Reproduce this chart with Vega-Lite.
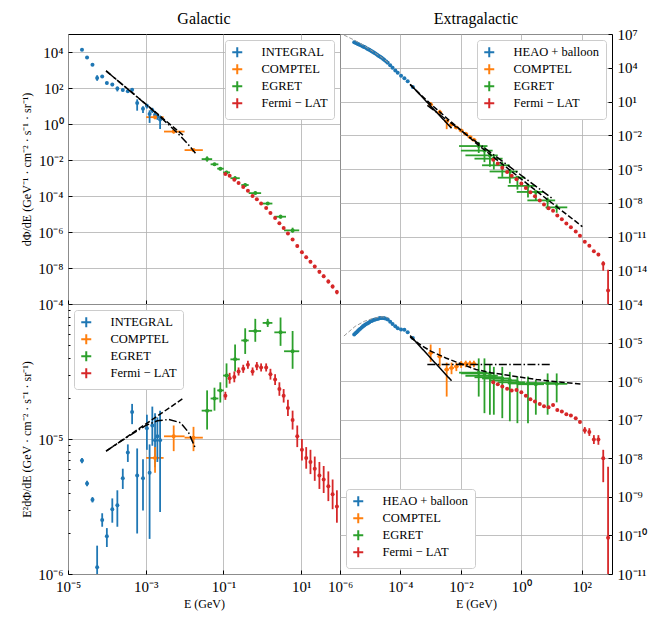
{
  "$schema": "https://vega.github.io/schema/vega-lite/v6.json",
  "padding": {"left": 20, "top": 10, "right": 5, "bottom": 5},
  "config": {
    "font": "Liberation Serif",
    "view": {"stroke": "black", "strokeWidth": 1},
    "axis": {
      "domain": false, "grid": true, "gridColor": "#b0b0b0", "gridWidth": 0.8,
      "tickColor": "black", "tickSize": -4, "labelPadding": 9, "labelOverlap": false, "labelFlush": false,
      "labelFont": "Liberation Serif", "labelFontSize": 15, "labelColor": "black",
      "titleFont": "Liberation Serif", "titleFontSize": 12, "titleFontWeight": "normal", "titleColor": "black"
    },
    "title": {"font": "Liberation Serif", "fontSize": 16, "fontWeight": "normal"},
    "legend": {
      "fillColor": "white", "strokeColor": "#cccccc", "cornerRadius": 3, "padding": 6, "offset": 6,
      "labelFont": "Liberation Serif", "labelFontSize": 12.5, "labelColor": "black", "labelOffset": 18,
      "symbolType": "M-1,0H1M0,-1V1", "symbolSize": 100, "symbolStrokeWidth": 2, "rowPadding": -2
    }
  },
  "datasets": {
    "gal": [
      {"inst": "INTEGRAL", "lgE": -4.64, "lgE2F": -5.16, "lgE2Flo": -5.18, "lgE2Fhi": -5.14, "lgF": 4.12, "lgFlo": 4.10, "lgFhi": 4.14},
      {"inst": "INTEGRAL", "lgE": -4.51, "lgE2F": -5.33, "lgE2Flo": -5.35, "lgE2Fhi": -5.31, "lgF": 3.69, "lgFlo": 3.67, "lgFhi": 3.71},
      {"inst": "INTEGRAL", "lgE": -4.37, "lgE2F": -5.45, "lgE2Flo": -5.47, "lgE2Fhi": -5.43, "lgF": 3.29, "lgFlo": 3.27, "lgFhi": 3.31},
      {"inst": "INTEGRAL", "lgE": -4.25, "lgE2F": -5.95, "lgE2Flo": -6.10, "lgE2Fhi": -5.79, "lgF": 2.55, "lgFlo": 2.40, "lgFhi": 2.71},
      {"inst": "INTEGRAL", "lgE": -4.12, "lgE2F": -5.60, "lgE2Flo": -5.65, "lgE2Fhi": -5.55, "lgF": 2.64, "lgFlo": 2.59, "lgFhi": 2.69},
      {"inst": "INTEGRAL", "lgE": -4.00, "lgE2F": -5.72, "lgE2Flo": -5.80, "lgE2Fhi": -5.66, "lgF": 2.28, "lgFlo": 2.20, "lgFhi": 2.34},
      {"inst": "INTEGRAL", "lgE": -3.86, "lgE2F": -5.52, "lgE2Flo": -5.62, "lgE2Fhi": -5.44, "lgF": 2.20, "lgFlo": 2.10, "lgFhi": 2.28},
      {"inst": "INTEGRAL", "lgE": -3.73, "lgE2F": -5.49, "lgE2Flo": -5.65, "lgE2Fhi": -5.38, "lgF": 1.97, "lgFlo": 1.81, "lgFhi": 2.08},
      {"inst": "INTEGRAL", "lgE": -3.59, "lgE2F": -5.29, "lgE2Flo": -5.37, "lgE2Fhi": -5.22, "lgF": 1.89, "lgFlo": 1.81, "lgFhi": 1.96},
      {"inst": "INTEGRAL", "lgE": -3.46, "lgE2F": -5.10, "lgE2Flo": -5.17, "lgE2Fhi": -5.04, "lgF": 1.82, "lgFlo": 1.75, "lgFhi": 1.88},
      {"inst": "INTEGRAL", "lgE": -3.35, "lgE2F": -4.80, "lgE2Flo": -4.89, "lgE2Fhi": -4.74, "lgF": 1.90, "lgFlo": 1.81, "lgFhi": 1.96},
      {"inst": "INTEGRAL", "lgE": -3.22, "lgE2F": -5.27, "lgE2Flo": -5.70, "lgE2Fhi": -5.07, "lgF": 1.17, "lgFlo": 0.74, "lgFhi": 1.37},
      {"inst": "INTEGRAL", "lgE": -3.07, "lgE2F": -5.29, "lgE2Flo": -5.53, "lgE2Fhi": -5.15, "lgF": 0.85, "lgFlo": 0.61, "lgFhi": 0.99},
      {"inst": "INTEGRAL", "lgE": -2.97, "lgE2F": -4.92, "lgE2Flo": -5.08, "lgE2Fhi": -4.82, "lgF": 1.02, "lgFlo": 0.86, "lgFhi": 1.12},
      {"inst": "INTEGRAL", "lgE": -2.90, "lgE2F": -5.25, "lgE2Flo": -5.74, "lgE2Fhi": -5.04, "lgF": 0.55, "lgFlo": 0.06, "lgFhi": 0.76},
      {"inst": "INTEGRAL", "lgE": -2.83, "lgE2F": -4.90, "lgE2Flo": -5.05, "lgE2Fhi": -4.76, "lgF": 0.76, "lgFlo": 0.61, "lgFhi": 0.90},
      {"inst": "INTEGRAL", "lgE": -2.76, "lgE2F": -5.01, "lgE2Flo": -5.21, "lgE2Fhi": -4.81, "lgF": 0.51, "lgFlo": 0.31, "lgFhi": 0.71},
      {"inst": "INTEGRAL", "lgE": -2.70, "lgE2F": -4.98, "lgE2Flo": -5.17, "lgE2Fhi": -4.84, "lgF": 0.42, "lgFlo": 0.23, "lgFhi": 0.56},
      {"inst": "INTEGRAL", "lgE": -2.63, "lgE2F": -5.01, "lgE2Flo": -5.54, "lgE2Fhi": -4.79, "lgF": 0.25, "lgFlo": -0.28, "lgFhi": 0.47},
      {"inst": "COMPTEL", "lgE": -2.76, "lgElo": -2.99, "lgEhi": -2.54, "lgE2F": -5.14, "lgE2Flo": -5.25, "lgE2Fhi": -5.06, "lgF": 0.38, "lgFlo": 0.27, "lgFhi": 0.46},
      {"inst": "COMPTEL", "lgE": -2.28, "lgElo": -2.53, "lgEhi": -2.00, "lgE2F": -4.98, "lgE2Flo": -5.09, "lgE2Fhi": -4.90, "lgF": -0.42, "lgFlo": -0.53, "lgFhi": -0.34},
      {"inst": "COMPTEL", "lgE": -1.77, "lgElo": -2.00, "lgEhi": -1.53, "lgE2F": -4.99, "lgE2Flo": -5.09, "lgE2Fhi": -4.91, "lgF": -1.45, "lgFlo": -1.55, "lgFhi": -1.37},
      {"inst": "EGRET", "lgE": -1.42, "lgElo": -1.56, "lgEhi": -1.29, "lgE2F": -4.79, "lgE2Flo": -4.93, "lgE2Fhi": -4.64, "lgF": -1.95, "lgFlo": -2.09, "lgFhi": -1.80},
      {"inst": "EGRET", "lgE": -1.23, "lgElo": -1.33, "lgEhi": -1.13, "lgE2F": -4.70, "lgE2Flo": -4.79, "lgE2Fhi": -4.62, "lgF": -2.24, "lgFlo": -2.33, "lgFhi": -2.16},
      {"inst": "EGRET", "lgE": -1.08, "lgElo": -1.16, "lgEhi": -0.99, "lgE2F": -4.64, "lgE2Flo": -4.73, "lgE2Fhi": -4.58, "lgF": -2.48, "lgFlo": -2.57, "lgFhi": -2.42},
      {"inst": "EGRET", "lgE": -0.92, "lgElo": -1.01, "lgEhi": -0.83, "lgE2F": -4.53, "lgE2Flo": -4.62, "lgE2Fhi": -4.44, "lgF": -2.69, "lgFlo": -2.78, "lgFhi": -2.60},
      {"inst": "EGRET", "lgE": -0.70, "lgElo": -0.82, "lgEhi": -0.58, "lgE2F": -4.41, "lgE2Flo": -4.50, "lgE2Fhi": -4.30, "lgF": -3.01, "lgFlo": -3.10, "lgFhi": -2.90},
      {"inst": "EGRET", "lgE": -0.44, "lgElo": -0.54, "lgEhi": -0.35, "lgE2F": -4.27, "lgE2Flo": -4.37, "lgE2Fhi": -4.18, "lgF": -3.39, "lgFlo": -3.49, "lgFhi": -3.30},
      {"inst": "EGRET", "lgE": -0.18, "lgElo": -0.35, "lgEhi": -0.03, "lgE2F": -4.20, "lgE2Flo": -4.28, "lgE2Fhi": -4.11, "lgF": -3.84, "lgFlo": -3.92, "lgFhi": -3.75},
      {"inst": "EGRET", "lgE": 0.14, "lgElo": 0.01, "lgEhi": 0.26, "lgE2F": -4.14, "lgE2Flo": -4.17, "lgE2Fhi": -4.11, "lgF": -4.42, "lgFlo": -4.45, "lgFhi": -4.39},
      {"inst": "EGRET", "lgE": 0.47, "lgElo": 0.31, "lgEhi": 0.61, "lgE2F": -4.21, "lgE2Flo": -4.31, "lgE2Fhi": -4.10, "lgF": -5.15, "lgFlo": -5.25, "lgFhi": -5.04},
      {"inst": "EGRET", "lgE": 0.78, "lgElo": 0.56, "lgEhi": 0.95, "lgE2F": -4.35, "lgE2Flo": -4.48, "lgE2Fhi": -4.20, "lgF": -5.91, "lgFlo": -6.04, "lgFhi": -5.76},
      {"inst": "Fermi − LAT", "lgE": -0.95, "lgE2F": -4.68, "lgE2Flo": -4.71, "lgE2Fhi": -4.65, "lgF": -2.78, "lgFlo": -2.81, "lgFhi": -2.75},
      {"inst": "Fermi − LAT", "lgE": -0.84, "lgE2F": -4.55, "lgE2Flo": -4.59, "lgE2Fhi": -4.51, "lgF": -2.87, "lgFlo": -2.91, "lgFhi": -2.83},
      {"inst": "Fermi − LAT", "lgE": -0.72, "lgE2F": -4.54, "lgE2Flo": -4.58, "lgE2Fhi": -4.50, "lgF": -3.10, "lgFlo": -3.14, "lgFhi": -3.06},
      {"inst": "Fermi − LAT", "lgE": -0.61, "lgE2F": -4.50, "lgE2Flo": -4.53, "lgE2Fhi": -4.47, "lgF": -3.28, "lgFlo": -3.31, "lgFhi": -3.25},
      {"inst": "Fermi − LAT", "lgE": -0.49, "lgE2F": -4.48, "lgE2Flo": -4.51, "lgE2Fhi": -4.45, "lgF": -3.50, "lgFlo": -3.53, "lgFhi": -3.47},
      {"inst": "Fermi − LAT", "lgE": -0.37, "lgE2F": -4.45, "lgE2Flo": -4.48, "lgE2Fhi": -4.42, "lgF": -3.71, "lgFlo": -3.74, "lgFhi": -3.68},
      {"inst": "Fermi − LAT", "lgE": -0.25, "lgE2F": -4.50, "lgE2Flo": -4.53, "lgE2Fhi": -4.47, "lgF": -4.00, "lgFlo": -4.03, "lgFhi": -3.97},
      {"inst": "Fermi − LAT", "lgE": -0.14, "lgE2F": -4.46, "lgE2Flo": -4.49, "lgE2Fhi": -4.43, "lgF": -4.18, "lgFlo": -4.21, "lgFhi": -4.15},
      {"inst": "Fermi − LAT", "lgE": -0.03, "lgE2F": -4.47, "lgE2Flo": -4.50, "lgE2Fhi": -4.44, "lgF": -4.41, "lgFlo": -4.44, "lgFhi": -4.38},
      {"inst": "Fermi − LAT", "lgE": 0.10, "lgE2F": -4.47, "lgE2Flo": -4.50, "lgE2Fhi": -4.44, "lgF": -4.67, "lgFlo": -4.70, "lgFhi": -4.64},
      {"inst": "Fermi − LAT", "lgE": 0.21, "lgE2F": -4.52, "lgE2Flo": -4.56, "lgE2Fhi": -4.48, "lgF": -4.94, "lgFlo": -4.98, "lgFhi": -4.90},
      {"inst": "Fermi − LAT", "lgE": 0.33, "lgE2F": -4.56, "lgE2Flo": -4.60, "lgE2Fhi": -4.52, "lgF": -5.22, "lgFlo": -5.26, "lgFhi": -5.18},
      {"inst": "Fermi − LAT", "lgE": 0.44, "lgE2F": -4.63, "lgE2Flo": -4.68, "lgE2Fhi": -4.58, "lgF": -5.51, "lgFlo": -5.56, "lgFhi": -5.46},
      {"inst": "Fermi − LAT", "lgE": 0.55, "lgE2F": -4.68, "lgE2Flo": -4.73, "lgE2Fhi": -4.63, "lgF": -5.78, "lgFlo": -5.83, "lgFhi": -5.73},
      {"inst": "Fermi − LAT", "lgE": 0.66, "lgE2F": -4.77, "lgE2Flo": -4.83, "lgE2Fhi": -4.71, "lgF": -6.09, "lgFlo": -6.15, "lgFhi": -6.03},
      {"inst": "Fermi − LAT", "lgE": 0.78, "lgE2F": -4.86, "lgE2Flo": -4.93, "lgE2Fhi": -4.79, "lgF": -6.42, "lgFlo": -6.49, "lgFhi": -6.35},
      {"inst": "Fermi − LAT", "lgE": 0.90, "lgE2F": -4.98, "lgE2Flo": -5.06, "lgE2Fhi": -4.90, "lgF": -6.78, "lgFlo": -6.86, "lgFhi": -6.70},
      {"inst": "Fermi − LAT", "lgE": 1.02, "lgE2F": -5.08, "lgE2Flo": -5.16, "lgE2Fhi": -5.00, "lgF": -7.12, "lgFlo": -7.20, "lgFhi": -7.04},
      {"inst": "Fermi − LAT", "lgE": 1.13, "lgE2F": -5.14, "lgE2Flo": -5.22, "lgE2Fhi": -5.06, "lgF": -7.40, "lgFlo": -7.48, "lgFhi": -7.32},
      {"inst": "Fermi − LAT", "lgE": 1.24, "lgE2F": -5.17, "lgE2Flo": -5.26, "lgE2Fhi": -5.08, "lgF": -7.65, "lgFlo": -7.74, "lgFhi": -7.56},
      {"inst": "Fermi − LAT", "lgE": 1.35, "lgE2F": -5.22, "lgE2Flo": -5.31, "lgE2Fhi": -5.13, "lgF": -7.92, "lgFlo": -8.01, "lgFhi": -7.83},
      {"inst": "Fermi − LAT", "lgE": 1.47, "lgE2F": -5.27, "lgE2Flo": -5.37, "lgE2Fhi": -5.17, "lgF": -8.21, "lgFlo": -8.31, "lgFhi": -8.11},
      {"inst": "Fermi − LAT", "lgE": 1.58, "lgE2F": -5.30, "lgE2Flo": -5.40, "lgE2Fhi": -5.20, "lgF": -8.46, "lgFlo": -8.56, "lgFhi": -8.36},
      {"inst": "Fermi − LAT", "lgE": 1.70, "lgE2F": -5.35, "lgE2Flo": -5.46, "lgE2Fhi": -5.24, "lgF": -8.75, "lgFlo": -8.86, "lgFhi": -8.64},
      {"inst": "Fermi − LAT", "lgE": 1.81, "lgE2F": -5.41, "lgE2Flo": -5.52, "lgE2Fhi": -5.30, "lgF": -9.03, "lgFlo": -9.14, "lgFhi": -8.92},
      {"inst": "Fermi − LAT", "lgE": 1.92, "lgE2F": -5.50, "lgE2Flo": -5.62, "lgE2Fhi": -5.38, "lgF": -9.34, "lgFlo": -9.46, "lgFhi": -9.22}
    ],
    "gal_lines": [
      {"ls": "dashed", "lgE": -4.02, "lgE2F": -5.09, "lgF": 2.95},
      {"ls": "dashed", "lgE": -2.04, "lgE2F": -4.70, "lgF": -0.62},
      {"ls": "dashdot", "lgE": -4.02, "lgE2F": -5.09, "lgF": 2.95},
      {"ls": "dashdot", "lgE": -3.5, "lgE2F": -4.99, "lgF": 2.01},
      {"ls": "dashdot", "lgE": -3.0, "lgE2F": -4.90, "lgF": 1.10},
      {"ls": "dashdot", "lgE": -2.7, "lgE2F": -4.865, "lgF": 0.535},
      {"ls": "dashdot", "lgE": -2.4, "lgE2F": -4.855, "lgF": -0.055},
      {"ls": "dashdot", "lgE": -2.1, "lgE2F": -4.88, "lgF": -0.68},
      {"ls": "dashdot", "lgE": -1.9, "lgE2F": -4.95, "lgF": -1.15},
      {"ls": "dashdot", "lgE": -1.72, "lgE2F": -5.07, "lgF": -1.63}
    ],
    "exg": [
      {"inst": "HEAO + balloon", "lgE": -5.53, "lgE2F": -4.79, "lgF": 6.27},
      {"inst": "HEAO + balloon", "lgE": -5.49, "lgE2F": -4.76, "lgF": 6.22},
      {"inst": "HEAO + balloon", "lgE": -5.45, "lgE2F": -4.73, "lgF": 6.17},
      {"inst": "HEAO + balloon", "lgE": -5.41, "lgE2F": -4.70, "lgF": 6.12},
      {"inst": "HEAO + balloon", "lgE": -5.37, "lgE2F": -4.67, "lgF": 6.07},
      {"inst": "HEAO + balloon", "lgE": -5.33, "lgE2F": -4.64, "lgF": 6.02},
      {"inst": "HEAO + balloon", "lgE": -5.28, "lgE2F": -4.61, "lgF": 5.95},
      {"inst": "HEAO + balloon", "lgE": -5.24, "lgE2F": -4.58, "lgF": 5.90},
      {"inst": "HEAO + balloon", "lgE": -5.20, "lgE2F": -4.56, "lgF": 5.84},
      {"inst": "HEAO + balloon", "lgE": -5.16, "lgE2F": -4.53, "lgF": 5.79},
      {"inst": "HEAO + balloon", "lgE": -5.11, "lgE2F": -4.51, "lgF": 5.71},
      {"inst": "HEAO + balloon", "lgE": -5.07, "lgE2F": -4.49, "lgF": 5.65},
      {"inst": "HEAO + balloon", "lgE": -5.03, "lgE2F": -4.47, "lgF": 5.59},
      {"inst": "HEAO + balloon", "lgE": -4.99, "lgE2F": -4.45, "lgF": 5.53},
      {"inst": "HEAO + balloon", "lgE": -4.95, "lgE2F": -4.44, "lgF": 5.46},
      {"inst": "HEAO + balloon", "lgE": -4.91, "lgE2F": -4.42, "lgF": 5.40},
      {"inst": "HEAO + balloon", "lgE": -4.87, "lgE2F": -4.41, "lgF": 5.33},
      {"inst": "HEAO + balloon", "lgE": -4.83, "lgE2F": -4.40, "lgF": 5.26},
      {"inst": "HEAO + balloon", "lgE": -4.78, "lgE2F": -4.39, "lgF": 5.17},
      {"inst": "HEAO + balloon", "lgE": -4.74, "lgE2F": -4.38, "lgF": 5.10},
      {"inst": "HEAO + balloon", "lgE": -4.70, "lgE2F": -4.37, "lgF": 5.03},
      {"inst": "HEAO + balloon", "lgE": -4.66, "lgE2F": -4.36, "lgF": 4.96},
      {"inst": "HEAO + balloon", "lgE": -4.62, "lgE2F": -4.36, "lgF": 4.88},
      {"inst": "HEAO + balloon", "lgE": -4.57, "lgE2F": -4.36, "lgF": 4.78},
      {"inst": "HEAO + balloon", "lgE": -4.53, "lgE2F": -4.37, "lgF": 4.69},
      {"inst": "HEAO + balloon", "lgE": -4.47, "lgE2F": -4.38, "lgF": 4.56},
      {"inst": "HEAO + balloon", "lgE": -4.42, "lgE2F": -4.40, "lgF": 4.44},
      {"inst": "HEAO + balloon", "lgE": -4.34, "lgE2F": -4.46, "lgF": 4.22},
      {"inst": "HEAO + balloon", "lgE": -4.26, "lgE2F": -4.52, "lgF": 4.00},
      {"inst": "HEAO + balloon", "lgE": -4.17, "lgE2F": -4.58, "lgF": 3.76},
      {"inst": "HEAO + balloon", "lgE": -4.09, "lgE2F": -4.63, "lgF": 3.55},
      {"inst": "HEAO + balloon", "lgE": -3.98, "lgE2F": -4.66, "lgF": 3.30},
      {"inst": "HEAO + balloon", "lgE": -3.87, "lgE2F": -4.67, "lgF": 3.07},
      {"inst": "HEAO + balloon", "lgE": -3.76, "lgE2F": -4.73, "lgF": 2.79},
      {"inst": "HEAO + balloon", "lgE": -3.59, "lgE2F": -4.88, "lgF": 2.30},
      {"inst": "COMPTEL", "lgE": -3.00, "lgElo": -3.08, "lgEhi": -2.92, "lgE2F": -5.27, "lgE2Flo": -5.50, "lgE2Fhi": -5.05, "lgF": 0.73, "lgFlo": 0.50, "lgFhi": 0.95},
      {"inst": "COMPTEL", "lgE": -2.70, "lgElo": -2.78, "lgEhi": -2.62, "lgE2F": -5.36, "lgE2Flo": -5.62, "lgE2Fhi": -5.14, "lgF": 0.04, "lgFlo": -0.22, "lgFhi": 0.26},
      {"inst": "COMPTEL", "lgE": -2.47, "lgElo": -2.55, "lgEhi": -2.39, "lgE2F": -5.70, "lgE2Flo": -6.40, "lgE2Fhi": -5.52, "lgF": -0.76, "lgFlo": -1.46, "lgFhi": -0.58},
      {"inst": "COMPTEL", "lgE": -2.31, "lgElo": -2.39, "lgEhi": -2.23, "lgE2F": -5.66, "lgE2Flo": -5.82, "lgE2Fhi": -5.52, "lgF": -1.04, "lgFlo": -1.20, "lgFhi": -0.90},
      {"inst": "COMPTEL", "lgE": -2.15, "lgElo": -2.23, "lgEhi": -2.07, "lgE2F": -5.62, "lgE2Flo": -5.74, "lgE2Fhi": -5.52, "lgF": -1.32, "lgFlo": -1.44, "lgFhi": -1.22},
      {"inst": "COMPTEL", "lgE": -1.99, "lgElo": -2.07, "lgEhi": -1.91, "lgE2F": -5.56, "lgE2Flo": -5.66, "lgE2Fhi": -5.48, "lgF": -1.58, "lgFlo": -1.68, "lgFhi": -1.50},
      {"inst": "COMPTEL", "lgE": -1.84, "lgElo": -1.92, "lgEhi": -1.76, "lgE2F": -5.55, "lgE2Flo": -5.64, "lgE2Fhi": -5.47, "lgF": -1.87, "lgFlo": -1.96, "lgFhi": -1.79},
      {"inst": "COMPTEL", "lgE": -1.70, "lgElo": -1.78, "lgEhi": -1.62, "lgE2F": -5.55, "lgE2Flo": -5.64, "lgE2Fhi": -5.47, "lgF": -2.15, "lgFlo": -2.24, "lgFhi": -2.07},
      {"inst": "COMPTEL", "lgE": -1.57, "lgElo": -1.65, "lgEhi": -1.49, "lgE2F": -5.55, "lgE2Flo": -5.64, "lgE2Fhi": -5.47, "lgF": -2.41, "lgFlo": -2.50, "lgFhi": -2.33},
      {"inst": "EGRET", "lgE": -1.41, "lgElo": -2.06, "lgEhi": -1.12, "lgE2F": -5.78, "lgE2Flo": -6.40, "lgE2Fhi": -5.41, "lgF": -2.96, "lgFlo": -3.58, "lgFhi": -2.59},
      {"inst": "EGRET", "lgE": -1.22, "lgElo": -2.00, "lgEhi": -0.95, "lgE2F": -5.80, "lgE2Flo": -6.83, "lgE2Fhi": -5.41, "lgF": -3.36, "lgFlo": -4.39, "lgFhi": -2.97},
      {"inst": "EGRET", "lgE": -1.04, "lgElo": -1.85, "lgEhi": -0.78, "lgE2F": -5.86, "lgE2Flo": -6.87, "lgE2Fhi": -5.58, "lgF": -3.78, "lgFlo": -4.79, "lgFhi": -3.50},
      {"inst": "EGRET", "lgE": -0.91, "lgElo": -1.55, "lgEhi": -0.62, "lgE2F": -5.90, "lgE2Flo": -6.87, "lgE2Fhi": -5.63, "lgF": -4.08, "lgFlo": -5.05, "lgFhi": -3.81},
      {"inst": "EGRET", "lgE": -0.63, "lgElo": -1.30, "lgEhi": -0.38, "lgE2F": -5.93, "lgE2Flo": -6.96, "lgE2Fhi": -5.63, "lgF": -4.67, "lgFlo": -5.70, "lgFhi": -4.37},
      {"inst": "EGRET", "lgE": -0.38, "lgElo": -1.05, "lgEhi": -0.12, "lgE2F": -5.98, "lgE2Flo": -7.04, "lgE2Fhi": -5.76, "lgF": -5.22, "lgFlo": -6.28, "lgFhi": -5.00},
      {"inst": "EGRET", "lgE": -0.13, "lgElo": -0.78, "lgEhi": 0.12, "lgE2F": -6.03, "lgE2Flo": -7.09, "lgE2Fhi": -5.88, "lgF": -5.77, "lgFlo": -6.83, "lgFhi": -5.62},
      {"inst": "EGRET", "lgE": 0.22, "lgElo": -0.45, "lgEhi": 0.48, "lgE2F": -6.06, "lgE2Flo": -7.09, "lgE2Fhi": -5.88, "lgF": -6.50, "lgFlo": -7.53, "lgFhi": -6.32},
      {"inst": "EGRET", "lgE": 0.48, "lgElo": -0.15, "lgEhi": 0.75, "lgE2F": -6.08, "lgE2Flo": -6.87, "lgE2Fhi": -5.97, "lgF": -7.04, "lgFlo": -7.83, "lgFhi": -6.93},
      {"inst": "EGRET", "lgE": 0.87, "lgElo": 0.20, "lgEhi": 1.12, "lgE2F": -6.05, "lgE2Flo": -6.87, "lgE2Fhi": -5.80, "lgF": -7.79, "lgFlo": -8.61, "lgFhi": -7.54},
      {"inst": "EGRET", "lgE": 1.17, "lgElo": 0.80, "lgEhi": 1.52, "lgE2F": -6.07, "lgE2Flo": -6.55, "lgE2Fhi": -5.80, "lgF": -8.41, "lgFlo": -8.89, "lgFhi": -8.14},
      {"inst": "Fermi − LAT", "lgE": -0.93, "lgE2F": -6.03, "lgE2Flo": -6.06, "lgE2Fhi": -6.00, "lgF": -4.17, "lgFlo": -4.20, "lgFhi": -4.14},
      {"inst": "Fermi − LAT", "lgE": -0.78, "lgE2F": -6.08, "lgE2Flo": -6.11, "lgE2Fhi": -6.05, "lgF": -4.52, "lgFlo": -4.55, "lgFhi": -4.49},
      {"inst": "Fermi − LAT", "lgE": -0.63, "lgE2F": -6.14, "lgE2Flo": -6.17, "lgE2Fhi": -6.11, "lgF": -4.88, "lgFlo": -4.91, "lgFhi": -4.85},
      {"inst": "Fermi − LAT", "lgE": -0.47, "lgE2F": -6.20, "lgE2Flo": -6.23, "lgE2Fhi": -6.17, "lgF": -5.26, "lgFlo": -5.29, "lgFhi": -5.23},
      {"inst": "Fermi − LAT", "lgE": -0.32, "lgE2F": -6.24, "lgE2Flo": -6.27, "lgE2Fhi": -6.21, "lgF": -5.60, "lgFlo": -5.63, "lgFhi": -5.57},
      {"inst": "Fermi − LAT", "lgE": -0.16, "lgE2F": -6.23, "lgE2Flo": -6.26, "lgE2Fhi": -6.20, "lgF": -5.91, "lgFlo": -5.94, "lgFhi": -5.88},
      {"inst": "Fermi − LAT", "lgE": 0.00, "lgE2F": -6.29, "lgE2Flo": -6.32, "lgE2Fhi": -6.26, "lgF": -6.29, "lgFlo": -6.32, "lgFhi": -6.26},
      {"inst": "Fermi − LAT", "lgE": 0.15, "lgE2F": -6.38, "lgE2Flo": -6.41, "lgE2Fhi": -6.35, "lgF": -6.68, "lgFlo": -6.71, "lgFhi": -6.65},
      {"inst": "Fermi − LAT", "lgE": 0.30, "lgE2F": -6.47, "lgE2Flo": -6.50, "lgE2Fhi": -6.44, "lgF": -7.07, "lgFlo": -7.10, "lgFhi": -7.04},
      {"inst": "Fermi − LAT", "lgE": 0.45, "lgE2F": -6.53, "lgE2Flo": -6.56, "lgE2Fhi": -6.50, "lgF": -7.43, "lgFlo": -7.46, "lgFhi": -7.40},
      {"inst": "Fermi − LAT", "lgE": 0.61, "lgE2F": -6.59, "lgE2Flo": -6.62, "lgE2Fhi": -6.56, "lgF": -7.81, "lgFlo": -7.84, "lgFhi": -7.78},
      {"inst": "Fermi − LAT", "lgE": 0.75, "lgE2F": -6.65, "lgE2Flo": -6.68, "lgE2Fhi": -6.62, "lgF": -8.15, "lgFlo": -8.18, "lgFhi": -8.12},
      {"inst": "Fermi − LAT", "lgE": 0.90, "lgE2F": -6.68, "lgE2Flo": -6.71, "lgE2Fhi": -6.65, "lgF": -8.48, "lgFlo": -8.51, "lgFhi": -8.45},
      {"inst": "Fermi − LAT", "lgE": 1.05, "lgE2F": -6.62, "lgE2Flo": -6.65, "lgE2Fhi": -6.59, "lgF": -8.72, "lgFlo": -8.75, "lgFhi": -8.69},
      {"inst": "Fermi − LAT", "lgE": 1.19, "lgE2F": -6.75, "lgE2Flo": -6.78, "lgE2Fhi": -6.72, "lgF": -9.13, "lgFlo": -9.16, "lgFhi": -9.10},
      {"inst": "Fermi − LAT", "lgE": 1.34, "lgE2F": -6.79, "lgE2Flo": -6.82, "lgE2Fhi": -6.76, "lgF": -9.47, "lgFlo": -9.50, "lgFhi": -9.44},
      {"inst": "Fermi − LAT", "lgE": 1.49, "lgE2F": -6.86, "lgE2Flo": -6.89, "lgE2Fhi": -6.83, "lgF": -9.84, "lgFlo": -9.87, "lgFhi": -9.81},
      {"inst": "Fermi − LAT", "lgE": 1.64, "lgE2F": -6.89, "lgE2Flo": -6.92, "lgE2Fhi": -6.86, "lgF": -10.17, "lgFlo": -10.20, "lgFhi": -10.14},
      {"inst": "Fermi − LAT", "lgE": 1.80, "lgE2F": -6.96, "lgE2Flo": -6.99, "lgE2Fhi": -6.93, "lgF": -10.56, "lgFlo": -10.59, "lgFhi": -10.53},
      {"inst": "Fermi − LAT", "lgE": 1.94, "lgE2F": -7.06, "lgE2Flo": -7.09, "lgE2Fhi": -7.03, "lgF": -10.94, "lgFlo": -10.97, "lgFhi": -10.91},
      {"inst": "Fermi − LAT", "lgE": 2.10, "lgE2F": -7.27, "lgE2Flo": -7.36, "lgE2Fhi": -7.19, "lgF": -11.47, "lgFlo": -11.56, "lgFhi": -11.39},
      {"inst": "Fermi − LAT", "lgE": 2.25, "lgE2F": -7.32, "lgE2Flo": -7.42, "lgE2Fhi": -7.22, "lgF": -11.82, "lgFlo": -11.92, "lgFhi": -11.72},
      {"inst": "Fermi − LAT", "lgE": 2.40, "lgE2F": -7.51, "lgE2Flo": -7.63, "lgE2Fhi": -7.40, "lgF": -12.31, "lgFlo": -12.43, "lgFhi": -12.20},
      {"inst": "Fermi − LAT", "lgE": 2.55, "lgE2F": -7.51, "lgE2Flo": -7.65, "lgE2Fhi": -7.40, "lgF": -12.61, "lgFlo": -12.75, "lgFhi": -12.50},
      {"inst": "Fermi − LAT", "lgE": 2.71, "lgE2F": -8.00, "lgE2Flo": -8.62, "lgE2Fhi": -7.78, "lgF": -13.42, "lgFlo": -14.04, "lgFhi": -13.20},
      {"inst": "Fermi − LAT", "lgE": 2.87, "lgE2F": -10.06, "lgE2Flo": -12.00, "lgE2Fhi": -8.22, "lgF": -15.80, "lgFlo": -17.74, "lgFhi": -13.96}
    ],
    "exg_lines": [
      {"ls": "solid", "lgE": -3.68, "lgE2F": -4.82, "lgF": 2.54},
      {"ls": "solid", "lgE": -2.31, "lgE2F": -5.99, "lgF": -1.37},
      {"ls": "dashed", "lgE": -3.68, "lgE2F": -4.86, "lgF": 2.50},
      {"ls": "dashed", "lgE": -3.3, "lgE2F": -5.08, "lgF": 1.52},
      {"ls": "dashed", "lgE": -3.0, "lgE2F": -5.22, "lgF": 0.78},
      {"ls": "dashed", "lgE": -2.5, "lgE2F": -5.40, "lgF": -0.40},
      {"ls": "dashed", "lgE": -2.0, "lgE2F": -5.55, "lgF": -1.55},
      {"ls": "dashed", "lgE": -1.5, "lgE2F": -5.70, "lgF": -2.70},
      {"ls": "dashed", "lgE": -1.0, "lgE2F": -5.78, "lgF": -3.78},
      {"ls": "dashed", "lgE": -0.5, "lgE2F": -5.84, "lgF": -4.84},
      {"ls": "dashed", "lgE": 0.0, "lgE2F": -5.90, "lgF": -5.90},
      {"ls": "dashed", "lgE": 0.5, "lgE2F": -5.96, "lgF": -6.96},
      {"ls": "dashed", "lgE": 1.0, "lgE2F": -6.00, "lgF": -8.00},
      {"ls": "dashed", "lgE": 1.5, "lgE2F": -6.04, "lgF": -9.04},
      {"ls": "dashed", "lgE": 2.02, "lgE2F": -6.08, "lgF": -10.12},
      {"ls": "dashdot", "lgE": -3.11, "lgE2F": -5.57, "lgF": 0.65},
      {"ls": "dashdot", "lgE": 1.02, "lgE2F": -5.57, "lgF": -7.61},
      {"ls": "fit", "lgE": -5.87, "lgE2F": -4.83, "lgF": 6.91},
      {"ls": "fit", "lgE": -5.5, "lgE2F": -4.58, "lgF": 6.42},
      {"ls": "fit", "lgE": -5.2, "lgE2F": -4.45, "lgF": 5.95},
      {"ls": "fit", "lgE": -4.9, "lgE2F": -4.37, "lgF": 5.43},
      {"ls": "fit", "lgE": -4.6, "lgE2F": -4.33, "lgF": 4.87},
      {"ls": "fit", "lgE": -4.4, "lgE2F": -4.36, "lgF": 4.44}
    ]
  },
  "columns": 2,
  "spacing": 0,
  "bounds": "flush",
  "resolve": {
    "scale": {"x": "independent", "y": "independent", "stroke": "independent", "fill": "independent", "strokeDash": "independent"},
    "legend": {"stroke": "independent"}
  },
  "concat": [
    {
      "width": 272, "height": 270,
      "title": {"text": "Galactic", "offset": 7},
      "data": {"name": "gal"},
      "layer": [
        {
          "transform": [{"filter": "isValid(datum.lgElo)"}],
          "mark": {"type": "rule", "strokeWidth": 1.8, "clip": true},
          "encoding": {
            "x": {"field": "lgElo", "type": "quantitative", "scale": {"domain": [-5, 2], "nice": false, "zero": false},
              "axis": {"values": [-5, -3, -1, 1], "labels": false, "title": null, "labelOverlap": false}},
            "x2": {"field": "lgEhi"},
            "y": {"field": "lgF", "type": "quantitative", "scale": {"domain": [-10, 5], "nice": false, "zero": false},
              "axis": {"values": [-8, -6, -4, -2, 0, 2, 4], "title": "dΦ/dE (GeV⁻¹ · cm⁻² · s⁻¹ · sr⁻¹)", "labelOverlap": false,
                "labelExpr": "'10' + replace(replace(replace(replace(replace(replace(replace(replace(replace(replace(replace(datum.value + '', regexp('-','g'), '⁻'), regexp('0','g'), '⁰'), regexp('1','g'), '¹'), regexp('2','g'), '²'), regexp('3','g'), '³'), regexp('4','g'), '⁴'), regexp('5','g'), '⁵'), regexp('6','g'), '⁶'), regexp('7','g'), '⁷'), regexp('8','g'), '⁸'), regexp('9','g'), '⁹')"}},
            "stroke": {"field": "inst", "type": "nominal",
              "scale": {"domain": ["INTEGRAL", "COMPTEL", "EGRET", "Fermi − LAT"], "range": ["#1f77b4", "#ff7f0e", "#2ca02c", "#d62728"]},
              "legend": {"title": null, "orient": "top-right", "labelFont": "Liberation Serif", "labelFontSize": 12.5, "rowPadding": -2}}
          }
        },
        {
          "transform": [{"filter": "isValid(datum.lgFlo)"}],
          "mark": {"type": "rule", "strokeWidth": 1.8, "clip": true},
          "encoding": {
            "x": {"field": "lgE", "type": "quantitative", "scale": {"domain": [-5, 2], "nice": false, "zero": false}},
            "y": {"field": "lgFlo", "type": "quantitative", "scale": {"domain": [-10, 5], "nice": false, "zero": false}},
            "y2": {"field": "lgFhi"},
            "stroke": {"field": "inst", "type": "nominal"}
          }
        },
        {
          "mark": {"type": "circle", "size": 16, "opacity": 1, "clip": true},
          "encoding": {
            "x": {"field": "lgE", "type": "quantitative", "scale": {"domain": [-5, 2], "nice": false, "zero": false}},
            "y": {"field": "lgF", "type": "quantitative", "scale": {"domain": [-10, 5], "nice": false, "zero": false}},
            "fill": {"field": "inst", "type": "nominal",
              "scale": {"domain": ["INTEGRAL", "COMPTEL", "EGRET", "Fermi − LAT"], "range": ["#1f77b4", "#ff7f0e", "#2ca02c", "#d62728"]},
              "legend": null}
          }
        },
        {
          "data": {"name": "gal_lines"},
          "mark": {"type": "line", "strokeWidth": 1.5, "clip": true},
          "encoding": {
            "x": {"field": "lgE", "type": "quantitative", "scale": {"domain": [-5, 2], "nice": false, "zero": false}},
            "y": {"field": "lgF", "type": "quantitative", "scale": {"domain": [-10, 5], "nice": false, "zero": false}},
            "stroke": {"value": "black"},
            "strokeDash": {"field": "ls", "type": "nominal", "legend": null,
              "scale": {"domain": ["solid", "dashed", "dashdot"], "range": [[1, 0], [5.5, 2.4], [8, 2.4, 1.5, 2.4]]}}
          }
        }
      ]
    },
    {
      "width": 272, "height": 270,
      "title": {"text": "Extragalactic", "offset": 0},
      "data": {"name": "exg"},
      "layer": [
        {
          "transform": [{"filter": "isValid(datum.lgElo)"}],
          "mark": {"type": "rule", "strokeWidth": 1.8, "clip": true},
          "encoding": {
            "x": {"field": "lgElo", "type": "quantitative", "scale": {"domain": [-6, 3], "nice": false, "zero": false},
              "axis": {"values": [-6, -4, -2, 0, 2], "labels": false, "title": null, "labelOverlap": false}},
            "x2": {"field": "lgEhi"},
            "y": {"field": "lgF", "type": "quantitative", "scale": {"domain": [-17, 7], "nice": false, "zero": false},
              "axis": {"orient": "right", "values": [-14, -11, -8, -5, -2, 1, 4, 7], "title": null, "labelOverlap": false,
                "labelExpr": "'10' + replace(replace(replace(replace(replace(replace(replace(replace(replace(replace(replace(datum.value + '', regexp('-','g'), '⁻'), regexp('0','g'), '⁰'), regexp('1','g'), '¹'), regexp('2','g'), '²'), regexp('3','g'), '³'), regexp('4','g'), '⁴'), regexp('5','g'), '⁵'), regexp('6','g'), '⁶'), regexp('7','g'), '⁷'), regexp('8','g'), '⁸'), regexp('9','g'), '⁹')"}},
            "stroke": {"field": "inst", "type": "nominal",
              "scale": {"domain": ["HEAO + balloon", "COMPTEL", "EGRET", "Fermi − LAT"], "range": ["#1f77b4", "#ff7f0e", "#2ca02c", "#d62728"]},
              "legend": {"title": null, "orient": "top-right", "labelFont": "Liberation Serif", "labelFontSize": 12.5, "rowPadding": -2}}
          }
        },
        {
          "transform": [{"filter": "isValid(datum.lgFlo)"}],
          "mark": {"type": "rule", "strokeWidth": 1.8, "clip": true},
          "encoding": {
            "x": {"field": "lgE", "type": "quantitative", "scale": {"domain": [-6, 3], "nice": false, "zero": false},
              "axis": {"values": [-6, -4, -2, 0, 2], "labels": false, "title": null, "labelOverlap": false}},
            "y": {"field": "lgFlo", "type": "quantitative", "scale": {"domain": [-17, 7], "nice": false, "zero": false},
              "axis": {"orient": "right", "values": [-14, -11, -8, -5, -2, 1, 4, 7], "title": null, "labelOverlap": false,
                "labelExpr": "'10' + replace(replace(replace(replace(replace(replace(replace(replace(replace(replace(replace(datum.value + '', regexp('-','g'), '⁻'), regexp('0','g'), '⁰'), regexp('1','g'), '¹'), regexp('2','g'), '²'), regexp('3','g'), '³'), regexp('4','g'), '⁴'), regexp('5','g'), '⁵'), regexp('6','g'), '⁶'), regexp('7','g'), '⁷'), regexp('8','g'), '⁸'), regexp('9','g'), '⁹')"}},
            "y2": {"field": "lgFhi"},
            "stroke": {"field": "inst", "type": "nominal"}
          }
        },
        {
          "mark": {"type": "circle", "size": 16, "opacity": 1, "clip": true},
          "encoding": {
            "x": {"field": "lgE", "type": "quantitative", "scale": {"domain": [-6, 3], "nice": false, "zero": false},
              "axis": {"values": [-6, -4, -2, 0, 2], "labels": false, "title": null, "labelOverlap": false}},
            "y": {"field": "lgF", "type": "quantitative", "scale": {"domain": [-17, 7], "nice": false, "zero": false},
              "axis": {"orient": "right", "values": [-14, -11, -8, -5, -2, 1, 4, 7], "title": null, "labelOverlap": false,
                "labelExpr": "'10' + replace(replace(replace(replace(replace(replace(replace(replace(replace(replace(replace(datum.value + '', regexp('-','g'), '⁻'), regexp('0','g'), '⁰'), regexp('1','g'), '¹'), regexp('2','g'), '²'), regexp('3','g'), '³'), regexp('4','g'), '⁴'), regexp('5','g'), '⁵'), regexp('6','g'), '⁶'), regexp('7','g'), '⁷'), regexp('8','g'), '⁸'), regexp('9','g'), '⁹')"}},
            "fill": {"field": "inst", "type": "nominal",
              "scale": {"domain": ["HEAO + balloon", "COMPTEL", "EGRET", "Fermi − LAT"], "range": ["#1f77b4", "#ff7f0e", "#2ca02c", "#d62728"]},
              "legend": null}
          }
        },
        {
          "data": {"name": "exg_lines"},
          "transform": [{"filter": "datum.ls === 'fit'"}],
          "mark": {"type": "line", "strokeWidth": 1, "stroke": "#999999", "strokeDash": [4, 2], "clip": true},
          "encoding": {
            "x": {"field": "lgE", "type": "quantitative", "scale": {"domain": [-6, 3], "nice": false, "zero": false},
              "axis": {"values": [-6, -4, -2, 0, 2], "labels": false, "title": null, "labelOverlap": false}},
            "y": {"field": "lgF", "type": "quantitative", "scale": {"domain": [-17, 7], "nice": false, "zero": false},
              "axis": {"orient": "right", "values": [-14, -11, -8, -5, -2, 1, 4, 7], "title": null, "labelOverlap": false,
                "labelExpr": "'10' + replace(replace(replace(replace(replace(replace(replace(replace(replace(replace(replace(datum.value + '', regexp('-','g'), '⁻'), regexp('0','g'), '⁰'), regexp('1','g'), '¹'), regexp('2','g'), '²'), regexp('3','g'), '³'), regexp('4','g'), '⁴'), regexp('5','g'), '⁵'), regexp('6','g'), '⁶'), regexp('7','g'), '⁷'), regexp('8','g'), '⁸'), regexp('9','g'), '⁹')"}}
          }
        },
        {
          "data": {"name": "exg_lines"},
          "transform": [{"filter": "datum.ls !== 'fit'"}],
          "mark": {"type": "line", "strokeWidth": 1.5, "clip": true},
          "encoding": {
            "x": {"field": "lgE", "type": "quantitative", "scale": {"domain": [-6, 3], "nice": false, "zero": false},
              "axis": {"values": [-6, -4, -2, 0, 2], "labels": false, "title": null, "labelOverlap": false}},
            "y": {"field": "lgF", "type": "quantitative", "scale": {"domain": [-17, 7], "nice": false, "zero": false},
              "axis": {"orient": "right", "values": [-14, -11, -8, -5, -2, 1, 4, 7], "title": null, "labelOverlap": false,
                "labelExpr": "'10' + replace(replace(replace(replace(replace(replace(replace(replace(replace(replace(replace(datum.value + '', regexp('-','g'), '⁻'), regexp('0','g'), '⁰'), regexp('1','g'), '¹'), regexp('2','g'), '²'), regexp('3','g'), '³'), regexp('4','g'), '⁴'), regexp('5','g'), '⁵'), regexp('6','g'), '⁶'), regexp('7','g'), '⁷'), regexp('8','g'), '⁸'), regexp('9','g'), '⁹')"}},
            "stroke": {"value": "black"},
            "strokeDash": {"field": "ls", "type": "nominal", "legend": null,
              "scale": {"domain": ["solid", "dashed", "dashdot"], "range": [[1, 0], [5.5, 2.4], [8, 2.4, 1.5, 2.4]]}}
          }
        }
      ]
    },
    {
      "width": 272, "height": 270,
      "data": {"name": "gal"},
      "layer": [
        {
          "transform": [{"filter": "isValid(datum.lgElo)"}],
          "mark": {"type": "rule", "strokeWidth": 1.8, "clip": true},
          "encoding": {
            "x": {"field": "lgElo", "type": "quantitative", "scale": {"domain": [-5, 2], "nice": false, "zero": false},
              "axis": {"values": [-5, -3, -1, 1], "title": "E (GeV)", "labelOverlap": false,
                "labelExpr": "'10' + replace(replace(replace(replace(replace(replace(replace(replace(replace(replace(replace(datum.value + '', regexp('-','g'), '⁻'), regexp('0','g'), '⁰'), regexp('1','g'), '¹'), regexp('2','g'), '²'), regexp('3','g'), '³'), regexp('4','g'), '⁴'), regexp('5','g'), '⁵'), regexp('6','g'), '⁶'), regexp('7','g'), '⁷'), regexp('8','g'), '⁸'), regexp('9','g'), '⁹')"}},
            "x2": {"field": "lgEhi"},
            "y": {"field": "lgE2F", "type": "quantitative", "scale": {"domain": [-6, -4], "nice": false, "zero": false},
              "axis": {"values": [-6, -5.699, -5.523, -5.398, -5.301, -5.222, -5.155, -5.097, -5.046, -5, -4.699, -4.523, -4.398, -4.301, -4.222, -4.155, -4.097, -4.046, -4],
                "title": "E²dΦ/dE (GeV · cm⁻² · s⁻¹ · sr⁻¹)", "labelOverlap": false,
                "gridOpacity": {"condition": {"test": "abs(datum.value - round(datum.value)) < 0.01", "value": 1}, "value": 0},
                "tickSize": {"condition": {"test": "abs(datum.value - round(datum.value)) < 0.01", "value": -4}, "value": -2},
                "labelExpr": "abs(datum.value - round(datum.value)) < 0.01 ? '10' + replace(replace(replace(replace(replace(replace(replace(replace(replace(replace(replace(round(datum.value) + '', regexp('-','g'), '⁻'), regexp('0','g'), '⁰'), regexp('1','g'), '¹'), regexp('2','g'), '²'), regexp('3','g'), '³'), regexp('4','g'), '⁴'), regexp('5','g'), '⁵'), regexp('6','g'), '⁶'), regexp('7','g'), '⁷'), regexp('8','g'), '⁸'), regexp('9','g'), '⁹') : ''"}},
            "stroke": {"field": "inst", "type": "nominal",
              "scale": {"domain": ["INTEGRAL", "COMPTEL", "EGRET", "Fermi − LAT"], "range": ["#1f77b4", "#ff7f0e", "#2ca02c", "#d62728"]},
              "legend": {"title": null, "orient": "top-left", "labelFont": "Liberation Serif", "labelFontSize": 12.5, "rowPadding": -2}}
          }
        },
        {
          "transform": [{"filter": "isValid(datum.lgE2Flo)"}],
          "mark": {"type": "rule", "strokeWidth": 1.8, "clip": true},
          "encoding": {
            "x": {"field": "lgE", "type": "quantitative", "scale": {"domain": [-5, 2], "nice": false, "zero": false},
              "axis": {"values": [-5, -3, -1, 1], "title": "E (GeV)", "labelOverlap": false,
                "labelExpr": "'10' + replace(replace(replace(replace(replace(replace(replace(replace(replace(replace(replace(datum.value + '', regexp('-','g'), '⁻'), regexp('0','g'), '⁰'), regexp('1','g'), '¹'), regexp('2','g'), '²'), regexp('3','g'), '³'), regexp('4','g'), '⁴'), regexp('5','g'), '⁵'), regexp('6','g'), '⁶'), regexp('7','g'), '⁷'), regexp('8','g'), '⁸'), regexp('9','g'), '⁹')"}},
            "y": {"field": "lgE2Flo", "type": "quantitative", "scale": {"domain": [-6, -4], "nice": false, "zero": false},
              "axis": {"values": [-6, -5.699, -5.523, -5.398, -5.301, -5.222, -5.155, -5.097, -5.046, -5, -4.699, -4.523, -4.398, -4.301, -4.222, -4.155, -4.097, -4.046, -4],
                "title": "E²dΦ/dE (GeV · cm⁻² · s⁻¹ · sr⁻¹)", "labelOverlap": false,
                "gridOpacity": {"condition": {"test": "abs(datum.value - round(datum.value)) < 0.01", "value": 1}, "value": 0},
                "tickSize": {"condition": {"test": "abs(datum.value - round(datum.value)) < 0.01", "value": -4}, "value": -2},
                "labelExpr": "abs(datum.value - round(datum.value)) < 0.01 ? '10' + replace(replace(replace(replace(replace(replace(replace(replace(replace(replace(replace(round(datum.value) + '', regexp('-','g'), '⁻'), regexp('0','g'), '⁰'), regexp('1','g'), '¹'), regexp('2','g'), '²'), regexp('3','g'), '³'), regexp('4','g'), '⁴'), regexp('5','g'), '⁵'), regexp('6','g'), '⁶'), regexp('7','g'), '⁷'), regexp('8','g'), '⁸'), regexp('9','g'), '⁹') : ''"}},
            "y2": {"field": "lgE2Fhi"},
            "stroke": {"field": "inst", "type": "nominal"}
          }
        },
        {
          "mark": {"type": "circle", "size": 16, "opacity": 1, "clip": true},
          "encoding": {
            "x": {"field": "lgE", "type": "quantitative", "scale": {"domain": [-5, 2], "nice": false, "zero": false},
              "axis": {"values": [-5, -3, -1, 1], "title": "E (GeV)", "labelOverlap": false,
                "labelExpr": "'10' + replace(replace(replace(replace(replace(replace(replace(replace(replace(replace(replace(datum.value + '', regexp('-','g'), '⁻'), regexp('0','g'), '⁰'), regexp('1','g'), '¹'), regexp('2','g'), '²'), regexp('3','g'), '³'), regexp('4','g'), '⁴'), regexp('5','g'), '⁵'), regexp('6','g'), '⁶'), regexp('7','g'), '⁷'), regexp('8','g'), '⁸'), regexp('9','g'), '⁹')"}},
            "y": {"field": "lgE2F", "type": "quantitative", "scale": {"domain": [-6, -4], "nice": false, "zero": false},
              "axis": {"values": [-6, -5.699, -5.523, -5.398, -5.301, -5.222, -5.155, -5.097, -5.046, -5, -4.699, -4.523, -4.398, -4.301, -4.222, -4.155, -4.097, -4.046, -4],
                "title": "E²dΦ/dE (GeV · cm⁻² · s⁻¹ · sr⁻¹)", "labelOverlap": false,
                "gridOpacity": {"condition": {"test": "abs(datum.value - round(datum.value)) < 0.01", "value": 1}, "value": 0},
                "tickSize": {"condition": {"test": "abs(datum.value - round(datum.value)) < 0.01", "value": -4}, "value": -2},
                "labelExpr": "abs(datum.value - round(datum.value)) < 0.01 ? '10' + replace(replace(replace(replace(replace(replace(replace(replace(replace(replace(replace(round(datum.value) + '', regexp('-','g'), '⁻'), regexp('0','g'), '⁰'), regexp('1','g'), '¹'), regexp('2','g'), '²'), regexp('3','g'), '³'), regexp('4','g'), '⁴'), regexp('5','g'), '⁵'), regexp('6','g'), '⁶'), regexp('7','g'), '⁷'), regexp('8','g'), '⁸'), regexp('9','g'), '⁹') : ''"}},
            "fill": {"field": "inst", "type": "nominal",
              "scale": {"domain": ["INTEGRAL", "COMPTEL", "EGRET", "Fermi − LAT"], "range": ["#1f77b4", "#ff7f0e", "#2ca02c", "#d62728"]},
              "legend": null}
          }
        },
        {
          "data": {"name": "gal_lines"},
          "mark": {"type": "line", "strokeWidth": 1.5, "clip": true},
          "encoding": {
            "x": {"field": "lgE", "type": "quantitative", "scale": {"domain": [-5, 2], "nice": false, "zero": false},
              "axis": {"values": [-5, -3, -1, 1], "title": "E (GeV)", "labelOverlap": false,
                "labelExpr": "'10' + replace(replace(replace(replace(replace(replace(replace(replace(replace(replace(replace(datum.value + '', regexp('-','g'), '⁻'), regexp('0','g'), '⁰'), regexp('1','g'), '¹'), regexp('2','g'), '²'), regexp('3','g'), '³'), regexp('4','g'), '⁴'), regexp('5','g'), '⁵'), regexp('6','g'), '⁶'), regexp('7','g'), '⁷'), regexp('8','g'), '⁸'), regexp('9','g'), '⁹')"}},
            "y": {"field": "lgE2F", "type": "quantitative", "scale": {"domain": [-6, -4], "nice": false, "zero": false},
              "axis": {"values": [-6, -5.699, -5.523, -5.398, -5.301, -5.222, -5.155, -5.097, -5.046, -5, -4.699, -4.523, -4.398, -4.301, -4.222, -4.155, -4.097, -4.046, -4],
                "title": "E²dΦ/dE (GeV · cm⁻² · s⁻¹ · sr⁻¹)", "labelOverlap": false,
                "gridOpacity": {"condition": {"test": "abs(datum.value - round(datum.value)) < 0.01", "value": 1}, "value": 0},
                "tickSize": {"condition": {"test": "abs(datum.value - round(datum.value)) < 0.01", "value": -4}, "value": -2},
                "labelExpr": "abs(datum.value - round(datum.value)) < 0.01 ? '10' + replace(replace(replace(replace(replace(replace(replace(replace(replace(replace(replace(round(datum.value) + '', regexp('-','g'), '⁻'), regexp('0','g'), '⁰'), regexp('1','g'), '¹'), regexp('2','g'), '²'), regexp('3','g'), '³'), regexp('4','g'), '⁴'), regexp('5','g'), '⁵'), regexp('6','g'), '⁶'), regexp('7','g'), '⁷'), regexp('8','g'), '⁸'), regexp('9','g'), '⁹') : ''"}},
            "stroke": {"value": "black"},
            "strokeDash": {"field": "ls", "type": "nominal", "legend": null,
              "scale": {"domain": ["solid", "dashed", "dashdot"], "range": [[1, 0], [5.5, 2.4], [8, 2.4, 1.5, 2.4]]}}
          }
        }
      ]
    },
    {
      "width": 272, "height": 270,
      "data": {"name": "exg"},
      "layer": [
        {
          "transform": [{"filter": "isValid(datum.lgElo)"}],
          "mark": {"type": "rule", "strokeWidth": 1.8, "clip": true},
          "encoding": {
            "x": {"field": "lgElo", "type": "quantitative", "scale": {"domain": [-6, 3], "nice": false, "zero": false},
              "axis": {"values": [-6, -4, -2, 0, 2], "title": "E (GeV)", "labelOverlap": false,
                "labelExpr": "'10' + replace(replace(replace(replace(replace(replace(replace(replace(replace(replace(replace(datum.value + '', regexp('-','g'), '⁻'), regexp('0','g'), '⁰'), regexp('1','g'), '¹'), regexp('2','g'), '²'), regexp('3','g'), '³'), regexp('4','g'), '⁴'), regexp('5','g'), '⁵'), regexp('6','g'), '⁶'), regexp('7','g'), '⁷'), regexp('8','g'), '⁸'), regexp('9','g'), '⁹')"}},
            "x2": {"field": "lgEhi"},
            "y": {"field": "lgE2F", "type": "quantitative", "scale": {"domain": [-11, -4], "nice": false, "zero": false},
              "axis": {"orient": "right", "values": [-11, -10, -9, -8, -7, -6, -5, -4], "title": null, "labelOverlap": false,
                "labelExpr": "'10' + replace(replace(replace(replace(replace(replace(replace(replace(replace(replace(replace(datum.value + '', regexp('-','g'), '⁻'), regexp('0','g'), '⁰'), regexp('1','g'), '¹'), regexp('2','g'), '²'), regexp('3','g'), '³'), regexp('4','g'), '⁴'), regexp('5','g'), '⁵'), regexp('6','g'), '⁶'), regexp('7','g'), '⁷'), regexp('8','g'), '⁸'), regexp('9','g'), '⁹')"}},
            "stroke": {"field": "inst", "type": "nominal",
              "scale": {"domain": ["HEAO + balloon", "COMPTEL", "EGRET", "Fermi − LAT"], "range": ["#1f77b4", "#ff7f0e", "#2ca02c", "#d62728"]},
              "legend": {"title": null, "orient": "bottom-left", "labelFont": "Liberation Serif", "labelFontSize": 12.5, "rowPadding": -2}}
          }
        },
        {
          "transform": [{"filter": "isValid(datum.lgE2Flo)"}],
          "mark": {"type": "rule", "strokeWidth": 1.8, "clip": true},
          "encoding": {
            "x": {"field": "lgE", "type": "quantitative", "scale": {"domain": [-6, 3], "nice": false, "zero": false},
              "axis": {"values": [-6, -4, -2, 0, 2], "title": "E (GeV)", "labelOverlap": false,
                "labelExpr": "'10' + replace(replace(replace(replace(replace(replace(replace(replace(replace(replace(replace(datum.value + '', regexp('-','g'), '⁻'), regexp('0','g'), '⁰'), regexp('1','g'), '¹'), regexp('2','g'), '²'), regexp('3','g'), '³'), regexp('4','g'), '⁴'), regexp('5','g'), '⁵'), regexp('6','g'), '⁶'), regexp('7','g'), '⁷'), regexp('8','g'), '⁸'), regexp('9','g'), '⁹')"}},
            "y": {"field": "lgE2Flo", "type": "quantitative", "scale": {"domain": [-11, -4], "nice": false, "zero": false},
              "axis": {"orient": "right", "values": [-11, -10, -9, -8, -7, -6, -5, -4], "title": null, "labelOverlap": false,
                "labelExpr": "'10' + replace(replace(replace(replace(replace(replace(replace(replace(replace(replace(replace(datum.value + '', regexp('-','g'), '⁻'), regexp('0','g'), '⁰'), regexp('1','g'), '¹'), regexp('2','g'), '²'), regexp('3','g'), '³'), regexp('4','g'), '⁴'), regexp('5','g'), '⁵'), regexp('6','g'), '⁶'), regexp('7','g'), '⁷'), regexp('8','g'), '⁸'), regexp('9','g'), '⁹')"}},
            "y2": {"field": "lgE2Fhi"},
            "stroke": {"field": "inst", "type": "nominal"}
          }
        },
        {
          "mark": {"type": "circle", "size": 16, "opacity": 1, "clip": true},
          "encoding": {
            "x": {"field": "lgE", "type": "quantitative", "scale": {"domain": [-6, 3], "nice": false, "zero": false},
              "axis": {"values": [-6, -4, -2, 0, 2], "title": "E (GeV)", "labelOverlap": false,
                "labelExpr": "'10' + replace(replace(replace(replace(replace(replace(replace(replace(replace(replace(replace(datum.value + '', regexp('-','g'), '⁻'), regexp('0','g'), '⁰'), regexp('1','g'), '¹'), regexp('2','g'), '²'), regexp('3','g'), '³'), regexp('4','g'), '⁴'), regexp('5','g'), '⁵'), regexp('6','g'), '⁶'), regexp('7','g'), '⁷'), regexp('8','g'), '⁸'), regexp('9','g'), '⁹')"}},
            "y": {"field": "lgE2F", "type": "quantitative", "scale": {"domain": [-11, -4], "nice": false, "zero": false},
              "axis": {"orient": "right", "values": [-11, -10, -9, -8, -7, -6, -5, -4], "title": null, "labelOverlap": false,
                "labelExpr": "'10' + replace(replace(replace(replace(replace(replace(replace(replace(replace(replace(replace(datum.value + '', regexp('-','g'), '⁻'), regexp('0','g'), '⁰'), regexp('1','g'), '¹'), regexp('2','g'), '²'), regexp('3','g'), '³'), regexp('4','g'), '⁴'), regexp('5','g'), '⁵'), regexp('6','g'), '⁶'), regexp('7','g'), '⁷'), regexp('8','g'), '⁸'), regexp('9','g'), '⁹')"}},
            "fill": {"field": "inst", "type": "nominal",
              "scale": {"domain": ["HEAO + balloon", "COMPTEL", "EGRET", "Fermi − LAT"], "range": ["#1f77b4", "#ff7f0e", "#2ca02c", "#d62728"]},
              "legend": null}
          }
        },
        {
          "data": {"name": "exg_lines"},
          "transform": [{"filter": "datum.ls === 'fit'"}],
          "mark": {"type": "line", "strokeWidth": 1, "stroke": "#999999", "strokeDash": [4, 2], "clip": true},
          "encoding": {
            "x": {"field": "lgE", "type": "quantitative", "scale": {"domain": [-6, 3], "nice": false, "zero": false},
              "axis": {"values": [-6, -4, -2, 0, 2], "title": "E (GeV)", "labelOverlap": false,
                "labelExpr": "'10' + replace(replace(replace(replace(replace(replace(replace(replace(replace(replace(replace(datum.value + '', regexp('-','g'), '⁻'), regexp('0','g'), '⁰'), regexp('1','g'), '¹'), regexp('2','g'), '²'), regexp('3','g'), '³'), regexp('4','g'), '⁴'), regexp('5','g'), '⁵'), regexp('6','g'), '⁶'), regexp('7','g'), '⁷'), regexp('8','g'), '⁸'), regexp('9','g'), '⁹')"}},
            "y": {"field": "lgE2F", "type": "quantitative", "scale": {"domain": [-11, -4], "nice": false, "zero": false},
              "axis": {"orient": "right", "values": [-11, -10, -9, -8, -7, -6, -5, -4], "title": null, "labelOverlap": false,
                "labelExpr": "'10' + replace(replace(replace(replace(replace(replace(replace(replace(replace(replace(replace(datum.value + '', regexp('-','g'), '⁻'), regexp('0','g'), '⁰'), regexp('1','g'), '¹'), regexp('2','g'), '²'), regexp('3','g'), '³'), regexp('4','g'), '⁴'), regexp('5','g'), '⁵'), regexp('6','g'), '⁶'), regexp('7','g'), '⁷'), regexp('8','g'), '⁸'), regexp('9','g'), '⁹')"}}
          }
        },
        {
          "data": {"name": "exg_lines"},
          "transform": [{"filter": "datum.ls !== 'fit'"}],
          "mark": {"type": "line", "strokeWidth": 1.5, "clip": true},
          "encoding": {
            "x": {"field": "lgE", "type": "quantitative", "scale": {"domain": [-6, 3], "nice": false, "zero": false},
              "axis": {"values": [-6, -4, -2, 0, 2], "title": "E (GeV)", "labelOverlap": false,
                "labelExpr": "'10' + replace(replace(replace(replace(replace(replace(replace(replace(replace(replace(replace(datum.value + '', regexp('-','g'), '⁻'), regexp('0','g'), '⁰'), regexp('1','g'), '¹'), regexp('2','g'), '²'), regexp('3','g'), '³'), regexp('4','g'), '⁴'), regexp('5','g'), '⁵'), regexp('6','g'), '⁶'), regexp('7','g'), '⁷'), regexp('8','g'), '⁸'), regexp('9','g'), '⁹')"}},
            "y": {"field": "lgE2F", "type": "quantitative", "scale": {"domain": [-11, -4], "nice": false, "zero": false},
              "axis": {"orient": "right", "values": [-11, -10, -9, -8, -7, -6, -5, -4], "title": null, "labelOverlap": false,
                "labelExpr": "'10' + replace(replace(replace(replace(replace(replace(replace(replace(replace(replace(replace(datum.value + '', regexp('-','g'), '⁻'), regexp('0','g'), '⁰'), regexp('1','g'), '¹'), regexp('2','g'), '²'), regexp('3','g'), '³'), regexp('4','g'), '⁴'), regexp('5','g'), '⁵'), regexp('6','g'), '⁶'), regexp('7','g'), '⁷'), regexp('8','g'), '⁸'), regexp('9','g'), '⁹')"}},
            "stroke": {"value": "black"},
            "strokeDash": {"field": "ls", "type": "nominal", "legend": null,
              "scale": {"domain": ["solid", "dashed", "dashdot"], "range": [[1, 0], [5.5, 2.4], [8, 2.4, 1.5, 2.4]]}}
          }
        }
      ]
    }
  ]
}
